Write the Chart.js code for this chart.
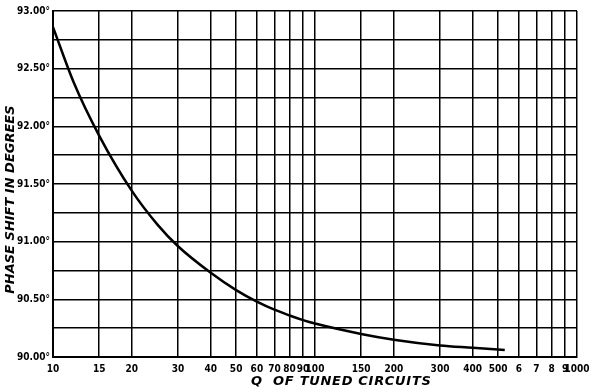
<!DOCTYPE html>
<html>
<head>
<meta charset="utf-8">
<script src="https://cdn.jsdelivr.net/npm/chart.js@4"></script>
<style>
  html, body { margin: 0; padding: 0; background: #fff; }
  #wrap { width: 597px; height: 392px; }
</style>
</head>
<body>
<div id="wrap"><canvas id="myChart" width="597" height="392"></canvas></div>
<script>
// Q of tuned circuits vs phase shift (degrees)
const qValues = [10, 12, 15, 20, 25, 30, 40, 50, 60, 70, 80, 90, 100, 150, 200, 300, 400, 530];
const phaseShift = [92.86, 92.38, 91.92, 91.44, 91.15, 90.96, 90.73, 90.58, 90.48, 90.41, 90.36, 90.32, 90.29, 90.20, 90.15, 90.10, 90.08, 90.06];

const xGrid = [10, 15, 20, 30, 40, 50, 60, 70, 80, 90, 100, 150, 200, 300, 400, 500, 600, 700, 800, 900, 1000];
const xLabels = ['10', '15', '20', '30', '40', '50', '60', '70', '80', '90', '100', '150', '200', '300', '400', '500', '6', '7', '8', '9', '1000'];
const yLabels = { '93': '93.00°', '92.5': '92.50°', '92': '92.00°', '91.5': '91.50°', '91': '91.00°', '90.5': '90.50°', '90': '90.00°' };

const xTitle = 'Q  OF TUNED CIRCUITS';
const yTitle = 'PHASE SHIFT IN DEGREES';

const points = qValues.map((q, i) => ({ x: q, y: phaseShift[i] }));

// axis titles drawn by hand so they can sit where the original has them
const titlePlugin = {
  id: 'handTitles',
  afterDraw(chart) {
    const c = chart.ctx;
    const area = chart.chartArea;
    c.save();
    c.fillStyle = '#000';
    c.font = 'italic bold 13px "DejaVu Sans"';
    c.textAlign = 'center';
    c.textBaseline = 'middle';
    c.letterSpacing = '0.7px';
    c.fillText(xTitle, area.left + (area.right - area.left) * 0.55, 382);
    c.letterSpacing = '0px';
    c.translate(11, area.top + (area.bottom - area.top) * 0.545);
    c.rotate(-Math.PI / 2);
    c.fillText(yTitle, 0, 0);
    c.restore();
  }
};

const ctx = document.getElementById('myChart');

new Chart(ctx, {
  type: 'line',
  data: {
    datasets: [{
      data: points,
      borderColor: '#000',
      borderWidth: 2.5,
      pointRadius: 0,
      cubicInterpolationMode: 'monotone',
      fill: false
    }]
  },
  plugins: [titlePlugin],
  options: {
    responsive: false,
    animation: false,
    layout: { padding: { left: 0, right: 20, top: 11, bottom: 0 } },
    plugins: { legend: { display: false }, tooltip: { enabled: false } },
    scales: {
      x: {
        type: 'logarithmic',
        min: 10,
        max: 1000,
        afterBuildTicks: scale => { scale.ticks = xGrid.map(v => ({ value: v })); },
        afterFit: scale => { scale.height = 35; },
        grid: { color: '#000', lineWidth: 1.5, drawTicks: false },
        border: { color: '#000', width: 2 },
        ticks: {
          autoSkip: false,
          maxRotation: 0,
          padding: 6,
          color: '#000',
          font: { family: 'DejaVu Sans Condensed', size: 10, weight: 'bold' },
          callback: (v, i) => xLabels[i]
        }
      },
      y: {
        min: 90,
        max: 93,
        afterFit: scale => { scale.width = 53; },
        grid: { color: '#000', lineWidth: 1.5, drawTicks: false },
        border: { color: '#000', width: 2 },
        ticks: {
          stepSize: 0.25,
          padding: 3,
          color: '#000',
          font: { family: 'DejaVu Sans Condensed', size: 10, weight: 'bold' },
          callback: v => yLabels[String(v)] || ''
        }
      }
    }
  }
});
</script>
</body>
</html>
